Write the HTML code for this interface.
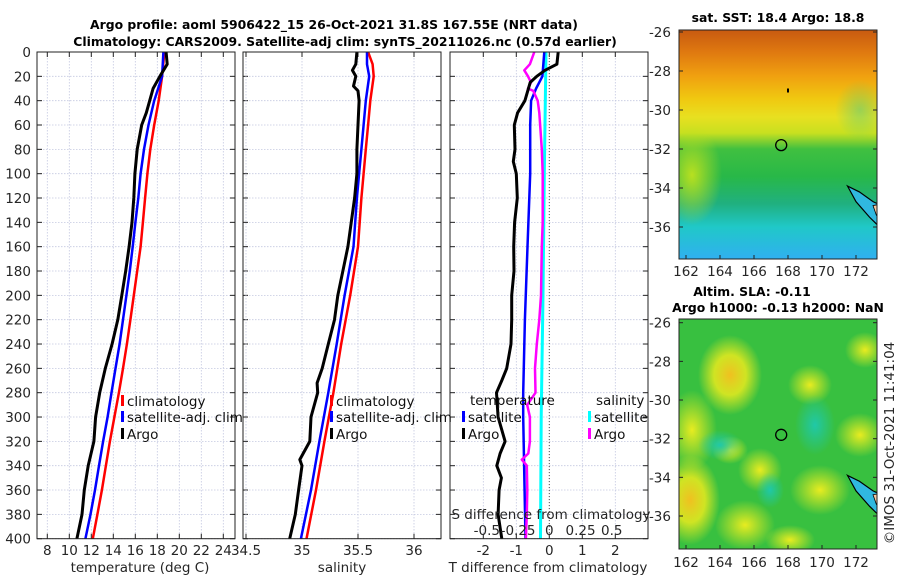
<!DOCTYPE html>
<html><head><meta charset="utf-8"><style>
html,body{margin:0;padding:0;background:#fff;}
svg{display:block;font-family:"DejaVu Sans","Liberation Sans",sans-serif;}
</style></head><body>
<svg id="chart" width="900" height="580" viewBox="0 0 900 580" xmlns="http://www.w3.org/2000/svg">
<defs>
<linearGradient id="sstGrad" x1="0" y1="0" x2="0" y2="1">
<stop offset="0" stop-color="#c85a10"/><stop offset="0.1" stop-color="#e07a10"/>
<stop offset="0.2" stop-color="#f0a010"/><stop offset="0.3" stop-color="#f0c810"/>
<stop offset="0.38" stop-color="#e8e020"/><stop offset="0.45" stop-color="#c8e020"/>
<stop offset="0.52" stop-color="#40c040"/><stop offset="0.64" stop-color="#28b848"/>
<stop offset="0.76" stop-color="#20b080"/><stop offset="0.86" stop-color="#20c8c8"/>
<stop offset="1" stop-color="#30b0f0"/></linearGradient>
<radialGradient id="blob"><stop offset="0" stop-color="#f0c020"/><stop offset="0.5" stop-color="#e0e820" stop-opacity="0.9"/><stop offset="1" stop-color="#e0e820" stop-opacity="0"/></radialGradient>
<radialGradient id="blobY"><stop offset="0" stop-color="#e8ec20"/><stop offset="1" stop-color="#e8ec20" stop-opacity="0"/></radialGradient>
<radialGradient id="blobC"><stop offset="0" stop-color="#20c8a8"/><stop offset="1" stop-color="#20c8a8" stop-opacity="0"/></radialGradient>
<radialGradient id="blobG"><stop offset="0" stop-color="#b8e020"/><stop offset="1" stop-color="#b8e020" stop-opacity="0"/></radialGradient>
<clipPath id="clipTop"><rect x="679" y="30" width="198" height="229"/></clipPath>
<clipPath id="clipBot"><rect x="679" y="319" width="198" height="230"/></clipPath>
</defs>
<g id="layer"></g>
</svg>
<script>
// ---- data ----
const depthTicks = [0,20,40,60,80,100,120,140,160,180,200,220,240,260,280,300,320,340,360,380,400];
const tempTicks = [8,10,12,14,16,18,20,22,24];
const salTicks = [34.5,35,35.5,36];
const salTickLabels = ["34.5","35","35.5","36"];
const dTTicks = [-2,-1,0,1,2];
const dSTickLabels = ["-0.5","-0.25","0","0.25","0.5"];
const dSTicks = [-0.5,-0.25,0,0.25,0.5];

const climDepth = [0,20,40,60,80,100,120,140,160,180,200,220,240,260,280,300,320,340,360,380,400];
const tempClim = [18.65,18.44,18.13,17.72,17.36,17.1,16.89,16.69,16.48,16.17,15.86,15.55,15.24,14.88,14.51,14.1,13.69,13.33,12.96,12.55,12.14];
const tempSat = [18.55,18.44,17.72,17.2,16.79,16.48,16.27,16.01,15.76,15.5,15.19,14.88,14.57,14.2,13.84,13.48,13.07,12.7,12.34,11.93,11.46];
const argoTDepth = [0,10,20,30,40,50,60,80,100,120,140,160,180,200,220,240,260,280,300,320,340,360,380,400];
const tempArgo = [18.8,18.9,18.24,17.62,17.31,17.0,16.58,16.17,15.96,15.86,15.7,15.44,15.13,14.77,14.41,13.89,13.27,12.76,12.39,12.24,11.72,11.36,11.15,10.69];

const salDepth = [0,10,20,40,60,80,100,120,160,200,240,280,320,360,400];
const salClim = [35.59,35.63,35.64,35.61,35.59,35.57,35.55,35.53,35.50,35.43,35.35,35.28,35.2,35.125,35.04];
const salSat = [35.58,35.58,35.60,35.57,35.55,35.53,35.51,35.49,35.46,35.38,35.31,35.235,35.155,35.08,34.99];
const argoSDepth = [0,10,15,20,28,32,40,60,80,100,120,160,200,220,240,260,272,280,300,320,335,340,360,380,400];
const salArgo = [35.49,35.48,35.45,35.48,35.46,35.50,35.51,35.50,35.49,35.49,35.47,35.41,35.32,35.29,35.235,35.18,35.135,35.14,35.08,35.07,34.98,35.0,34.97,34.94,34.89];

const dTArgoDepth = [0,10,15,20,25,40,50,60,80,90,100,120,140,160,180,200,220,240,260,270,280,300,320,330,340,350,360,380,400];
const dTArgo = [0.27,0.23,-0.13,-0.38,-0.58,-0.74,-0.96,-1.06,-1.04,-1.09,-1.0,-0.97,-1.05,-1.08,-1.07,-1.14,-1.14,-1.16,-1.29,-1.44,-1.6,-1.55,-1.34,-1.49,-1.59,-1.45,-1.52,-1.55,-1.44];
const dTSatDepth = [0,20,30,40,60,100,160,220,280,300,400];
const dTSat = [-0.15,-0.21,-0.4,-0.55,-0.58,-0.58,-0.66,-0.74,-0.79,-0.79,-0.72];
const dSSatDepth = [0,100,200,300,400];
const dSSat = [-0.026,-0.04,-0.05,-0.065,-0.07];
const dSArgoDepth = [0,10,15,20,25,30,32,40,50,80,100,140,160,200,220,240,260,280,290,300,320,330,335,340,360,380,400];
const dSArgo = [-0.12,-0.155,-0.2,-0.17,-0.146,-0.17,-0.128,-0.093,-0.08,-0.06,-0.053,-0.053,-0.06,-0.066,-0.08,-0.1,-0.114,-0.11,-0.177,-0.155,-0.155,-0.168,-0.22,-0.18,-0.176,-0.18,-0.187];

const latTicks = [-26,-28,-30,-32,-34,-36];
const lonTicks = [162,164,166,168,170,172];
const argoPos = [167.6,-31.8];

// ---- scales ----
const Y0 = 52, Y1 = 538.7;
const yD = d => Y0 + (d/400)*(Y1-Y0);
const xT = t => 47.3 + (t-8)*11;
const xS = s => 302 + (s-35)*112;
const xDT = v => 549.3 + v*33;
const xDS = v => 549.3 + v*125;
const lonTop = l => 686 + (l-162)*17;
const latTop = a => 32 + (-26-a)*19.5;
const latBot = a => 322.7 + (-26-a)*19.33;

const FS = 13.5;
const NS = "http://www.w3.org/2000/svg";
const layer = document.getElementById('layer');
function mk(tag, attrs, parent){
  const e = document.createElementNS(NS, tag);
  for (const k in attrs) e.setAttribute(k, attrs[k]);
  (parent||layer).appendChild(e); return e;
}
function txt(s, x, y, opts, parent){
  const e = mk('text', Object.assign({x:x, y:y, 'font-size':FS, fill:'#262626'}, opts||{}), parent);
  e.textContent = s; return e;
}

const panels = [{x0:37,x1:235,name:'temperature'},{x0:243,x1:441,name:'salinity'},{x0:450,x1:648,name:'difference'}];

let t1 = txt('Argo profile: aoml 5906422_15 26-Oct-2021 31.8S 167.55E (NRT data)', 334, 29, {'font-weight':'bold','text-anchor':'middle','font-size':12.4, fill:'#000'});


let t2 = txt('Climatology: CARS2009. Satellite-adj clim: synTS_20211026.nc (0.57d earlier)', 345, 46, {'font-weight':'bold','text-anchor':'middle','font-size':12.4, fill:'#000'});



function drawGridAndFrame(p, xticks, xf, labels, pname){
  const g = mk('g', {});
  
  
  mk('rect', {x:p.x0, y:Y0, width:p.x1-p.x0, height:Y1-Y0, fill:'#fff'}, g);
  depthTicks.forEach(d => {
    mk('line', {x1:p.x0, x2:p.x1, y1:yD(d), y2:yD(d), stroke:'#c4c8e0', 'stroke-width':0.8, 'stroke-dasharray':'1.5,1.5'}, g);
    mk('line', {x1:p.x0, x2:p.x0+5, y1:yD(d), y2:yD(d), stroke:'#222', 'stroke-width':1}, g);
    mk('line', {x1:p.x1-5, x2:p.x1, y1:yD(d), y2:yD(d), stroke:'#222', 'stroke-width':1}, g);
  });
  xticks.forEach((v,i) => {
    const x = xf(v);
    if (x < p.x0 || x > p.x1) return;
    mk('line', {x1:x, x2:x, y1:Y0, y2:Y1, stroke:'#c4c8e0', 'stroke-width':0.8, 'stroke-dasharray':'1.5,1.5'}, g);
    mk('line', {x1:x, x2:x, y1:Y1-5, y2:Y1, stroke:'#222'}, g);
    mk('line', {x1:x, x2:x, y1:Y0, y2:Y0+5, stroke:'#222'}, g);
    const lb = txt(labels[i], x, 555, {'text-anchor':'middle'}, g);
    
    
  });
  return g;
}

drawGridAndFrame(panels[0], tempTicks, xT, tempTicks.map(String), 'temperature-panel');
drawGridAndFrame(panels[1], salTicks, xS, salTickLabels, 'salinity-panel');
drawGridAndFrame(panels[2], dTTicks, xDT, dTTicks.map(String), 'difference-panel');
mk('line', {x1:xDT(0), x2:xDT(0), y1:Y0, y2:Y1, stroke:'#555', 'stroke-width':1, 'stroke-dasharray':'1,2'});

depthTicks.forEach(d => {
  const l = txt(String(d), 31, yD(d)+5, {'text-anchor':'end'});
  
  
});

function series(depths, vals, xf, color, w, name){
  const pts = depths.map((d,i) => xf(vals[i]).toFixed(1)+','+yD(d).toFixed(1)).join(' ');
  const e = mk('polyline', {points:pts, fill:'none', stroke:color, 'stroke-width':w, 'stroke-linejoin':'round'});
  
  
}
series(climDepth, tempClim, xT, '#ff0000', 2.5, 'temperature-climatology-line');
series(climDepth, tempSat, xT, '#0000ff', 2.5, 'temperature-satellite-line');
series(argoTDepth, tempArgo, xT, '#000', 3, 'temperature-argo-line');
series(salDepth, salClim, xS, '#ff0000', 2.5, 'salinity-climatology-line');
series(salDepth, salSat, xS, '#0000ff', 2.5, 'salinity-satellite-line');
series(argoSDepth, salArgo, xS, '#000', 3, 'salinity-argo-line');
series(dSSatDepth, dSSat, xDS, '#00ffff', 3, 'salinity-diff-satellite-line');
series(dTSatDepth, dTSat, xDT, '#0000ff', 2.5, 'temperature-diff-satellite-line');
series(dSArgoDepth, dSArgo, xDS, '#ff00ff', 2.5, 'salinity-diff-argo-line');
series(dTArgoDepth, dTArgo, xDT, '#000', 3, 'temperature-diff-argo-line');

panels.forEach(p => {
  const f = mk('rect', {x:p.x0, y:Y0, width:p.x1-p.x0, height:Y1-Y0, fill:'none', stroke:'#222', 'stroke-width':1});
  
  
});

[['temperature (deg C)',140,'temperature-x-axis-title'],['salinity',342,'salinity-x-axis-title'],['T difference from climatology',548,'t-difference-x-axis-title']].forEach(a => {
  const e = txt(a[0], a[1], 572, {'text-anchor':'middle'});
  
  
});
let sdt = txt('S difference from climatology', 551, 519, {'text-anchor':'middle'});


dSTicks.forEach((v,i) => {
  const e = txt(dSTickLabels[i], xDS(v), 535, {'text-anchor':'middle'});
  
  
});

function legendEntry(x, y, color, label, name){
  const g = mk('g', {});
  
  
  mk('rect', {x:x, y:y-11, width:3, height:11, fill:color}, g);
  txt(label, x+6, y, {fill:'#111'}, g);
}
legendEntry(121, 406, '#ff0000', 'climatology', 'legend-entry-climatology');
legendEntry(121, 422, '#0000ff', 'satellite-adj. clim', 'legend-entry-satellite-adj');
legendEntry(121, 439, '#000', 'Argo', 'legend-entry-argo');
legendEntry(330, 406, '#ff0000', 'climatology', 'legend-entry-climatology-salinity');
legendEntry(330, 422, '#0000ff', 'satellite-adj. clim', 'legend-entry-satellite-adj-salinity');
legendEntry(330, 439, '#000', 'Argo', 'legend-entry-argo-salinity');
let lt1 = txt('temperature', 470, 405, {fill:'#111'});


let lt2 = txt('salinity', 596, 405, {fill:'#111'});


legendEntry(462, 422, '#0000ff', 'satellite', 'legend-entry-temp-satellite');
legendEntry(462, 439, '#000', 'Argo', 'legend-entry-temp-argo');
legendEntry(588, 422, '#00ffff', 'satellite', 'legend-entry-sal-satellite');
legendEntry(588, 439, '#ff00ff', 'Argo', 'legend-entry-sal-argo');

// ---- maps ----
function coast(latf, g){
  const pts = [[171.5,-33.9],[172.2,-34.2],[173.0,-34.7],[173.5,-34.9],[173.5,-36.1],[172.8,-35.5],[172.0,-34.7]];
  mk('polygon', {points: pts.map(p=>lonTop(p[0])+','+latf(p[1])).join(' '), fill:'#30b8e0', stroke:'#000', 'stroke-width':1.2}, g);
  mk('polygon', {points: [[173.0,-34.9],[173.6,-34.8],[173.6,-35.8],[173.2,-35.4]].map(p=>lonTop(p[0])+','+latf(p[1])).join(' '), fill:'#f8c8a0', stroke:'#000', 'stroke-width':0.8}, g);
}
const gTop = mk('g', {'clip-path':'url(#clipTop)'});


mk('rect', {x:679, y:30, width:198, height:229, fill:'url(#sstGrad)'}, gTop);
mk('ellipse', {cx:692, cy:175, rx:30, ry:50, fill:'url(#blobG)'}, gTop);
mk('ellipse', {cx:860, cy:110, rx:25, ry:30, fill:'url(#blobC)', opacity:0.4}, gTop);
coast(latTop, gTop);
mk('circle', {cx:lonTop(argoPos[0]), cy:latTop(argoPos[1]), r:5.5, fill:'none', stroke:'#000', 'stroke-width':1.3}, gTop);
mk('rect', {x:lonTop(168)-1, y:latTop(-29)-2, width:2, height:4, fill:'#000'}, gTop);
mk('rect', {x:679, y:30, width:198, height:229, fill:'none', stroke:'#222'});

const gBot = mk('g', {'clip-path':'url(#clipBot)'});


mk('rect', {x:679, y:319, width:198, height:230, fill:'#38c040'}, gBot);
[[730,375,32,40,'blob'],[692,430,25,40,'blobY'],[690,500,30,45,'blob'],[810,385,22,20,'blobY'],[820,490,30,25,'blobY'],[860,435,25,22,'blobY'],[760,470,22,22,'blobY'],[865,350,20,18,'blobY'],[745,525,30,25,'blobY'],[790,540,25,15,'blobY'],[730,450,18,14,'blobY']].forEach(b => {
  mk('ellipse', {cx:b[0], cy:b[1], rx:b[2], ry:b[3], fill:'url(#'+b[4]+')'}, gBot);
});
[[815,425,20,30],[720,445,22,15],[770,490,14,18]].forEach(b => mk('ellipse', {cx:b[0], cy:b[1], rx:b[2], ry:b[3], fill:'url(#blobC)'}, gBot));
coast(latBot, gBot);
mk('circle', {cx:lonTop(argoPos[0]), cy:latBot(argoPos[1]), r:5.5, fill:'none', stroke:'#000', 'stroke-width':1.3}, gBot);
mk('rect', {x:679, y:319, width:198, height:230, fill:'none', stroke:'#222'});

function mapAxes(latf, yb, y0, y1, nm){
  latTicks.forEach(a => {
    const y = latf(a);
    mk('line', {x1:679, x2:683, y1:y, y2:y, stroke:'#222'});
    mk('line', {x1:873, x2:877, y1:y, y2:y, stroke:'#222'});
    const e = txt(String(a), 671, y+5, {'text-anchor':'end'});
    
    
  });
  lonTicks.forEach(l => {
    const x = lonTop(l);
    mk('line', {x1:x, x2:x, y1:y1-4, y2:y1, stroke:'#222'});
    const e = txt(String(l), x, yb, {'text-anchor':'middle'});
    
    
  });
}
mapAxes(latTop, 276, 30, 259, 'sst-map');
mapAxes(latBot, 567, 319, 549, 'sla-map');

let m1 = txt('sat. SST: 18.4 Argo: 18.8', 778, 22, {'font-weight':'bold','text-anchor':'middle','font-size':12.4, fill:'#000'});


let m2 = txt('Altim. SLA: -0.11', 752, 296, {'font-weight':'bold','text-anchor':'middle','font-size':12.4, fill:'#000'});


let m3 = txt('Argo h1000: -0.13 h2000: NaN', 778, 312, {'font-weight':'bold','text-anchor':'middle','font-size':12.4, fill:'#000'});


let cr = txt('©IMOS 31-Oct-2021 11:41:04', 0, 0, {'text-anchor':'middle', transform:'translate(894,443) rotate(-90)'});


</script>
</body></html>
